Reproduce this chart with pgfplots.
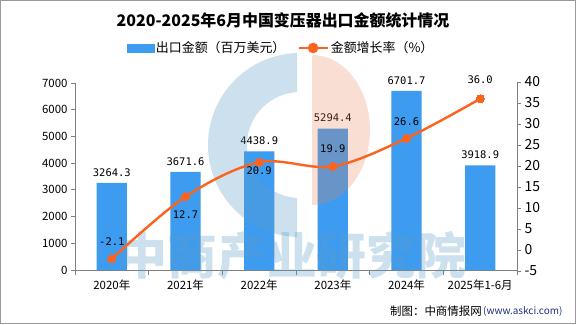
\documentclass[border=0pt]{standalone}
\usepackage{pgfplots}
\pgfplotsset{compat=1.18}
\usepackage{pgfplotstable}
\usepackage{fontspec}
\setmainfont{Noto Sans CJK SC}
\newfontfamily\monofont{DejaVu Sans Mono}
\definecolor{barblue}{RGB}{61,155,240}
\definecolor{orng}{RGB}{250,100,30}
\definecolor{axgray}{RGB}{128,128,128}
\definecolor{wmblue}{RGB}{91,155,196}
\definecolor{wmpeach}{RGB}{235,130,80}
\definecolor{urlblue}{RGB}{30,50,130}

\pgfplotstableread{
x v
0 3264.3
1 3671.6
2 4438.9
3 5294.4
4 6701.7
5 3918.9
}\exporttab

\pgfplotstableread{
x g dy
0 -2.1 17
1 12.7 -18
2 20.9 -8
3 19.9 18
4 26.6 17
5 36.0 19
}\growthtab

\begin{document}
\begin{tikzpicture}[x=1bp,y=1bp]
\path[use as bounding box] (0,0) rectangle (576,324);
\fill[white] (0,0) rectangle (576,324);
\draw[axgray!80, line width=1bp] (0.5,0.5) rectangle (575.5,323.5);

% title
\node[font=\fontsize{16}{18}\selectfont\bfseries] at (283,304) {2020-2025年6月中国变压器出口金额统计情况};

\begin{axis}[
  at={(75bp,54bp)}, anchor=south west,
  width=442bp, height=187bp, scale only axis,
  xmin=-0.5, xmax=5.5, ymin=0, ymax=7000,
  axis x line*=bottom, axis y line*=left,
  axis line style={axgray, line width=0.9bp},
  tick style={axgray, line width=0.9bp},
  tick align=outside,
  major tick length=4bp, minor tick length=5bp,
  xtick={0,1,2,3,4,5},
  xticklabels={2020年,2021年,2022年,2023年,2024年,2025年1-6月},
  minor xtick={-0.5,0.5,1.5,2.5,3.5,4.5,5.5},
  x tick style={draw=none},
  minor x tick style={draw=axgray},
  ytick={0,1000,...,7000},
  /pgf/number format/assume math mode=true,
  /pgf/number format/1000 sep={},
  yticklabel style={font=\fontsize{11.5}{13}\selectfont},
  xticklabel style={font=\fontsize{11.5}{13}\selectfont, yshift=-2bp},
  clip=false,
]
\addplot[ybar, bar width=0.41, fill=barblue, draw=none,
  nodes near coords={\pgfmathprintnumber[fixed,fixed zerofill,precision=1,1000 sep={},assume math mode=true]{\pgfplotspointmeta}},
  point meta=explicit,
  every node near coord/.append style={font=\monofont\fontsize{10.5}{12}\selectfont, black, anchor=south, yshift=3bp}]
  table[x=x, y=v, meta=v] {\exporttab};
\end{axis}

% watermark
\begin{scope}[opacity=0.3]
  \begin{scope}
    \clip (200,0) rectangle (297,324);
    \fill[wmblue, even odd rule] (300,179) circle (92) (300,179) circle (53);
  \end{scope}
\end{scope}
\begin{scope}[opacity=0.25]
  \fill[wmpeach] (312,269) arc[start angle=90, end angle=-90, x radius=58, y radius=75] -- cycle;
\end{scope}
\node[opacity=0.3, text=wmblue, font=\fontsize{50}{50}\selectfont\bfseries] at (292,68) {中商产业研究院};

\begin{axis}[
  at={(75bp,53bp)}, anchor=south west,
  width=442bp, height=189bp, scale only axis,
  xmin=-0.5, xmax=5.5, ymin=-5, ymax=40,
  axis x line=none, axis y line*=right,
  axis line style={axgray, line width=0.9bp},
  tick style={axgray, line width=0.9bp},
  tick align=outside, major tick length=4bp,
  ytick={-5,0,...,40},
  /pgf/number format/assume math mode=true,
  yticklabel style={font=\fontsize{14}{16}\selectfont},
  clip=false,
  legend style={at={(axis description cs:0.466,1)}, anchor=center, yshift=34bp,
    draw=none, fill=none, legend columns=2,
    font=\fontsize{13}{15}\selectfont,
    /tikz/every even column/.append style={column sep=10bp},
    legend cell align=left},
]
\addlegendimage{legend image code/.code={\fill[barblue] (0bp,-4bp) rectangle (27bp,4bp);}}
\addlegendentry{出口金额（百万美元）}
\addplot[color=orng, line width=2.4bp, smooth, tension=0.55,
  mark=*, mark size=4bp, mark options={fill=orng, draw=orng, line width=0bp},
  nodes near coords={\pgfmathprintnumber[fixed,fixed zerofill,precision=1,assume math mode=true]{\pgfplotspointmeta}},
  point meta=explicit,
  visualization depends on={\thisrow{dy} \as \dy},
  every node near coord/.append style={font=\monofont\fontsize{10.5}{12}\selectfont, black, anchor=center, yshift=\dy bp},
  legend image code/.code={\draw[orng, line width=2.4bp] (0bp,0bp) -- (29bp,0bp); \fill[orng] (14.5bp,0bp) circle (4bp);}]
  table[x=x, y=g, meta=g] {\growthtab};
\addlegendentry{金额增长率（\%）}
\end{axis}

% footer
\node[anchor=east, font=\fontsize{11.5}{13}\selectfont, inner sep=0] at (482,13) {制图：中商情报网};
\node[anchor=west, font=\fontsize{10}{12}\selectfont, text=urlblue, inner sep=0] at (483,13) {(www.askci.com)};
\end{tikzpicture}
\end{document}
